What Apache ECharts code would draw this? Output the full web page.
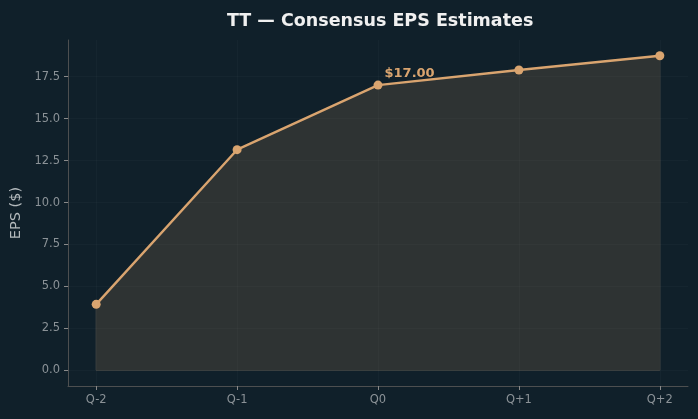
<!DOCTYPE html>
<html>
<head>
<meta charset="utf-8">
<script src="https://cdn.jsdelivr.net/npm/echarts@6/dist/echarts.min.js"></script>
<style>
  html, body { margin: 0; padding: 0; background: #10202a; }
  #chart { width: 698px; height: 419px; }
</style>
</head>
<body>
<div id="chart"></div>
<script>
// data
const quarters = ['Q-2', 'Q-1', 'Q0', 'Q+1', 'Q+2']
const epsValues = [3.93, 13.15, 17.0, 17.9, 18.75]
const yTicks = [0, 2.5, 5, 7.5, 10, 12.5, 15, 17.5]
const labelIndex = 2

const gold = '#d9a46f'
const tickColor = '#8b9297'
const axisColor = '#4d4f50'
const gridColor = 'rgba(255,255,255,0.025)'

const chart = echarts.init(document.getElementById('chart'))

const points = epsValues.map((v, i) => {
    const p = { value: [i, v] }
    if (i === labelIndex) {
        p.label = {
            show: true,
            formatter: '$' + v.toFixed(2),
            position: [11, -7],
            align: 'left',
            verticalAlign: 'middle',
            color: gold,
            fontWeight: 'bold',
            fontSize: 13,
            fontFamily: 'DejaVu Sans'
        }
    }
    return p
})
const last = epsValues.length - 1
// outline of the filled area (edges + baseline)
const outline = [[0, epsValues[0]], [0, 0], [last, 0], [last, epsValues[last]]]

const option = {
    backgroundColor: '#10202a',
    animation: false,
    title: {
        text: 'TT — Consensus EPS Estimates',
        left: 222,
        top: 7,
        textStyle: { color: '#f0f0f0', fontSize: 17.5, fontWeight: 'bold', fontFamily: 'DejaVu Sans' }
    },
    grid: { left: 68, right: 10, top: 40, bottom: 33 },
    xAxis: {
        type: 'value',
        min: -0.2,
        max: 4.2,
        interval: 1,
        axisLine: { show: true, onZero: false, lineStyle: { color: axisColor } },
        axisTick: { show: true, length: 4, lineStyle: { color: '#8a8a8a' }, customValues: [0, 1, 2, 3, 4] },
        axisLabel: {
            color: tickColor, fontSize: 11.5, fontFamily: 'DejaVu Sans', margin: 8,
            customValues: [0, 1, 2, 3, 4],
            formatter: v => quarters[Math.round(v)] || ''
        },
        splitLine: { show: false }
    },
    yAxis: {
        type: 'value',
        min: -0.94,
        max: 19.69,
        name: 'EPS ($)',
        nameLocation: 'middle',
        nameGap: 43,
        nameTextStyle: { color: '#b4babd', fontSize: 14.5, fontFamily: 'DejaVu Sans' },
        axisLine: { show: true, onZero: false, lineStyle: { color: axisColor } },
        axisTick: { show: true, length: 4, lineStyle: { color: '#8a8a8a' }, customValues: yTicks },
        axisLabel: {
            color: tickColor, fontSize: 11.5, fontFamily: 'DejaVu Sans', margin: 8,
            customValues: yTicks,
            formatter: v => v.toFixed(1)
        },
        splitLine: { show: false }
    },
    series: [
        {
            // faint grid lines at tick positions
            type: 'line',
            silent: true,
            symbol: 'none',
            data: [],
            markLine: {
                silent: true,
                symbol: 'none',
                label: { show: false },
                lineStyle: { color: gridColor, type: 'solid', width: 1 },
                data: yTicks.map(t => ({ yAxis: t })).concat(quarters.map((q, i) => ({ xAxis: i })))
            }
        },
        {
            type: 'line',
            silent: true,
            symbol: 'none',
            data: outline,
            lineStyle: { color: '#4a4b47', width: 1 },
            z: 2
        },
        {
            type: 'line',
            data: points,
            symbol: 'circle',
            symbolSize: 9,
            itemStyle: { color: gold },
            lineStyle: { color: gold, width: 2.4 },
            areaStyle: { color: '#2e3333', opacity: 1, origin: 0 },
            z: 3
        }
    ]
}

chart.setOption(option)
</script>
</body>
</html>
